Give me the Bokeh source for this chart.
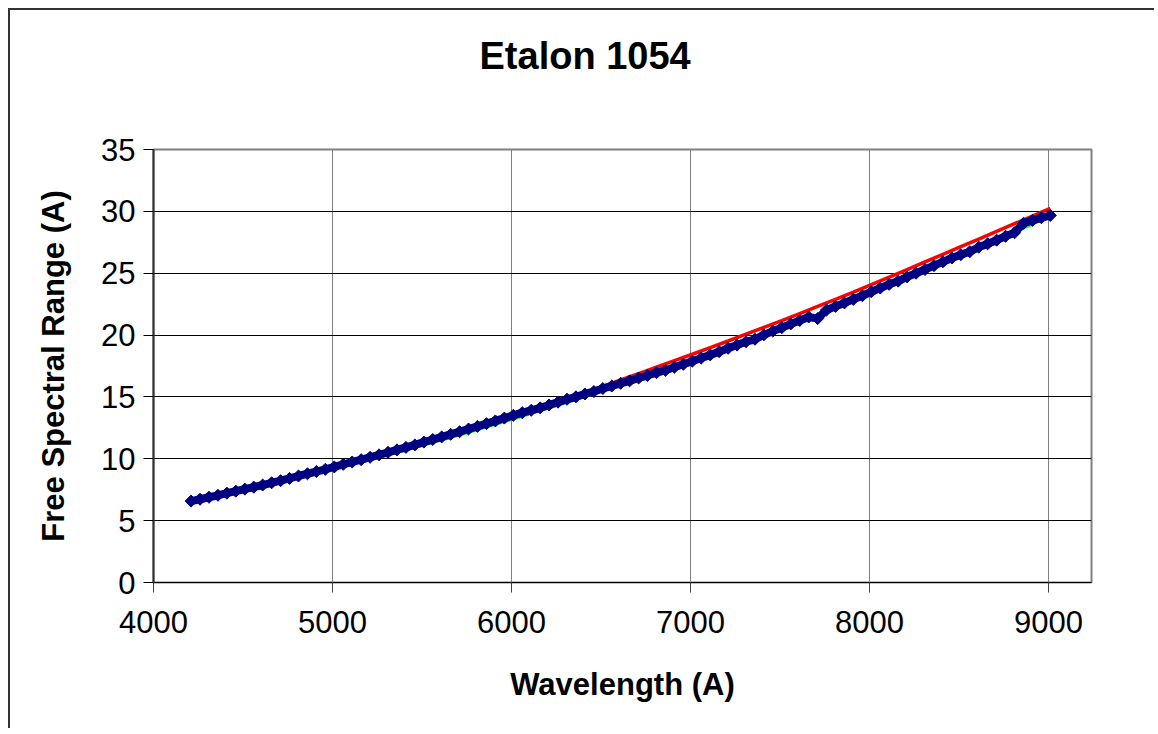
import math
from bokeh.plotting import figure
from bokeh.models import Range1d, FixedTicker, Title
from bokeh.embed import file_html
from bokeh.resources import INLINE

# Measured FSR points (blue diamonds), wavelength in Angstrom
wl_blue = [4210, 4260, 4310, 4360, 4410, 4460, 4510, 4560, 4610, 4660,
           4710, 4760, 4810, 4860, 4910, 4960, 5010, 5060, 5110, 5160,
           5210, 5260, 5310, 5360, 5410, 5460, 5510, 5560, 5610, 5660,
           5710, 5760, 5810, 5860, 5910, 5960, 6010, 6060, 6110, 6160,
           6210, 6260, 6310, 6360, 6410, 6460, 6510, 6560, 6610, 6660,
           6710, 6760, 6810, 6860, 6910, 6960, 7010, 7060, 7110, 7160,
           7210, 7260, 7310, 7360, 7410, 7460, 7510, 7560, 7610, 7660,
           7710, 7760, 7810, 7860, 7910, 7960, 8010, 8060, 8110, 8160,
           8210, 8260, 8310, 8360, 8410, 8460, 8510, 8560, 8610, 8660,
           8710, 8760, 8810, 8860, 8910, 8960, 9010]
fsr_blue = [6.58, 6.73, 6.89, 7.05, 7.22, 7.38, 7.55, 7.71, 7.88, 8.06,
            8.23, 8.41, 8.61, 8.79, 8.97, 9.15, 9.34, 9.55, 9.74, 9.93,
            10.12, 10.32, 10.52, 10.72, 10.92, 11.12, 11.35, 11.56, 11.77, 11.98,
            12.19, 12.41, 12.62, 12.84, 13.06, 13.29, 13.51, 13.73, 13.92, 14.12,
            14.35, 14.58, 14.81, 15.01, 15.24, 15.44, 15.68, 15.88, 16.10, 16.30,
            16.53, 16.73, 16.96, 17.15, 17.40, 17.64, 17.89, 18.14, 18.40, 18.66,
            18.93, 19.19, 19.46, 19.66, 20.02, 20.32, 20.60, 20.90, 21.18, 21.46,
            21.33, 22.03, 22.32, 22.60, 22.89, 23.18, 23.50, 23.80, 24.10, 24.36,
            24.70, 25.00, 25.30, 25.61, 25.92, 26.23, 26.50, 26.74, 27.10, 27.38,
            27.67, 27.99, 28.27, 29.03, 29.27, 29.48, 29.67]

# Red curve
wl_red = [4210, 4310, 4410, 4510, 4610, 4710, 4810, 4910, 5010, 5110,
          5210, 5310, 5410, 5510, 5610, 5710, 5810, 5910, 6010, 6110,
          6210, 6310, 6410, 6510, 6610, 6710, 6810, 6910, 7010, 7110,
          7210, 7310, 7410, 7510, 7610, 7710, 7810, 7910, 8010, 8110,
          8210, 8310, 8410, 8510, 8610, 8710, 8810, 8910, 9010]
fsr_red = [6.60, 6.92, 7.24, 7.58, 7.92, 8.26, 8.62, 8.98, 9.35, 9.73,
           10.11, 10.50, 10.90, 11.31, 11.72, 12.15, 12.57, 13.01, 13.45, 13.92,
           14.38, 14.85, 15.33, 15.86, 16.37, 16.88, 17.41, 17.93, 18.45, 18.98,
           19.52, 20.07, 20.62, 21.17, 21.74, 22.31, 22.89, 23.48, 24.08, 24.68,
           25.29, 25.91, 26.53, 27.15, 27.75, 28.38, 29.00, 29.62, 30.25]

# Green curve
wl_green = [4210, 4410, 4610, 4810, 5010, 5210, 5410, 5610, 5810, 6010,
            6210, 6410, 6610, 6810, 7010, 7210, 7410, 7610, 7810, 8010,
            8210, 8410, 8610, 8810, 9010]
fsr_green = [6.45, 7.08, 7.74, 8.42, 9.14, 9.88, 10.65, 11.46, 12.29, 13.15,
             14.04, 14.96, 15.90, 16.88, 17.89, 18.92, 19.99, 21.08, 22.20, 23.35,
             24.53, 25.75, 26.98, 28.25, 29.55]

x_ticks = [4000, 5000, 6000, 7000, 8000, 9000]
y_ticks = [0, 5, 10, 15, 20, 25, 30, 35]
title_text = "Etalon 1054"

FONT = "Liberation Sans"

p = figure(width=1146, height=720, output_backend="svg", toolbar_location=None,
           x_range=Range1d(4000, 9240), y_range=Range1d(0, 35),
           min_border_left=143, min_border_right=65,
           min_border_top=139, min_border_bottom=148,
           background_fill_color="white", border_fill_color="white")

p.styles = {"margin-left": "8px", "margin-top": "8px",
            "border-left": "2px solid #333333", "border-top": "2px solid #333333"}

# empty spacer between the plot frame and the chart title
p.add_layout(Title(text=" ", text_font_size="1px", standoff=65), "above")

p.title.text = title_text
p.title.text_font = FONT
p.title.text_font_style = "bold"
p.title.text_font_size = "38px"
p.title.text_color = "black"
p.title.align = "left"
p.title.offset = 326
p.title.standoff = 10

p.outline_line_color = "#808080"
p.outline_line_width = 2

p.xaxis.ticker = FixedTicker(ticks=x_ticks)
p.yaxis.ticker = FixedTicker(ticks=y_ticks)
p.xgrid.ticker = FixedTicker(ticks=x_ticks)
p.ygrid.ticker = FixedTicker(ticks=y_ticks)
p.xgrid.grid_line_color = "#808080"
p.xgrid.grid_line_width = 1
p.ygrid.grid_line_color = "black"
p.ygrid.grid_line_width = 1

for ax in (p.xaxis[0], p.yaxis[0]):
    ax.major_label_text_font = FONT
    ax.major_label_text_font_size = "31px"
    ax.major_label_text_color = "black"
    ax.axis_label_text_font = FONT
    ax.axis_label_text_font_style = "bold"
    ax.axis_label_text_font_size = "31px"
    ax.axis_label_text_color = "black"
    ax.major_tick_in = 0
    ax.major_tick_out = 10
    ax.minor_tick_line_color = None

p.xaxis.axis_label = "Wavelength (A)"
p.yaxis.axis_label = "Free Spectral Range (A)"
p.xaxis.axis_line_color = "black"
p.xaxis.major_tick_line_color = "#404040"
p.yaxis.axis_line_color = "#333333"
p.yaxis.axis_line_width = 2
p.yaxis.major_tick_line_color = "black"
p.xaxis.major_label_standoff = 18
p.yaxis.major_label_standoff = 8
p.xaxis.axis_label_standoff = 31
p.yaxis.axis_label_standoff = 27

p.line(wl_green, fsr_green, line_color="#00FF00", line_width=1.5)
p.line(wl_red, fsr_red, line_color="#FF0000", line_width=3.5)
p.line(wl_blue, fsr_blue, line_color="#000080", line_width=8)
p.scatter(wl_blue, fsr_blue, marker="square", angle=math.pi / 4, size=8.5,
          fill_color="#000080", line_color="#000080", line_width=1)

open("out.html", "w").write(file_html(p, INLINE))
